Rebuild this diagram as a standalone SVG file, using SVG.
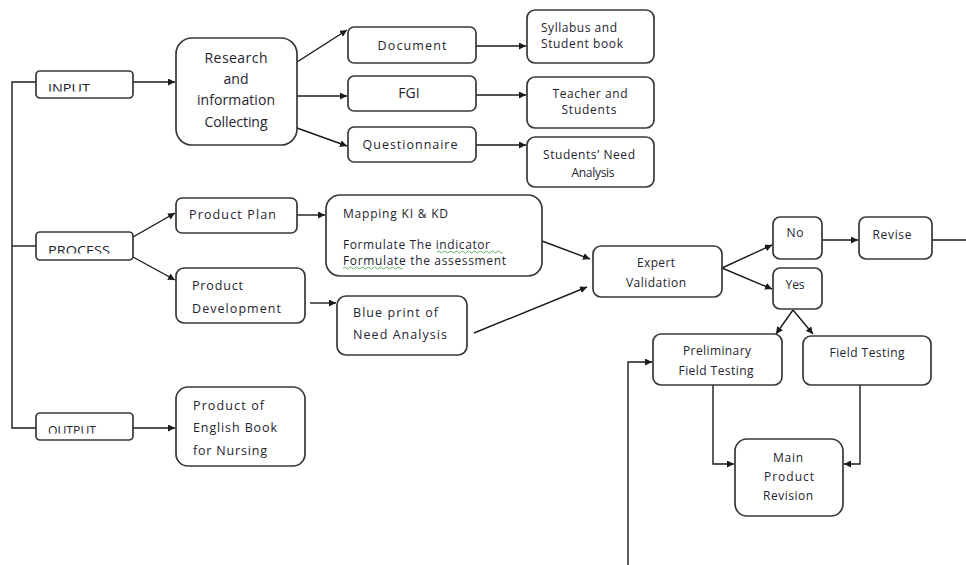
<svg xmlns="http://www.w3.org/2000/svg" width="966" height="565" viewBox="0 0 966 565">
<style>
.b{fill:#fff;stroke:#383838;stroke-width:1.7}
.c{fill:none;stroke:#1a1a1a;stroke-width:1.4}
text{font-family:"Open Sans","Liberation Sans",sans-serif;font-size:12.5px;fill:#1e2430}
.m{text-anchor:middle}
.L{font-size:14px}
.s{font-size:12px}
.t{font-size:13px}
.sp{fill:none;stroke:#3a9a3a;stroke-width:0.8}
</style>
<defs>
<marker id="a" viewBox="0 0 10 10" refX="10" refY="5" markerWidth="7" markerHeight="7" orient="auto" markerUnits="userSpaceOnUse">
<path d="M0,0 L10,5 L0,10 z" fill="#1a1a1a"/>
</marker>
<clipPath id="k1"><rect x="30" y="70" width="110" height="21.5"/></clipPath>
<clipPath id="k2"><rect x="30" y="230" width="110" height="23.5"/></clipPath>
<clipPath id="k3"><rect x="30" y="410" width="110" height="23.5"/></clipPath>
</defs>
<g id="connectors">
<path class="c" d="M36,82 H12 V428 H36"/>
<path class="c" d="M12,246 H36"/>
<path class="c" d="M133,82 H175" marker-end="url(#a)"/>
<path class="c" d="M297,62 L347,30" marker-end="url(#a)"/>
<path class="c" d="M297,96 H347" marker-end="url(#a)"/>
<path class="c" d="M297,128 L347,146" marker-end="url(#a)"/>
<path class="c" d="M476,46 H526" marker-end="url(#a)"/>
<path class="c" d="M476,95 H526" marker-end="url(#a)"/>
<path class="c" d="M476,145 H526" marker-end="url(#a)"/>
<path class="c" d="M133,237 L175,213" marker-end="url(#a)"/>
<path class="c" d="M133,257 L175,280" marker-end="url(#a)"/>
<path class="c" d="M133,428 H175" marker-end="url(#a)"/>
<path class="c" d="M297,215 H325" marker-end="url(#a)"/>
<path class="c" d="M310,303 H336" marker-end="url(#a)"/>
<path class="c" d="M542,241 L590,259" marker-end="url(#a)"/>
<path class="c" d="M474,333 L587,287" marker-end="url(#a)"/>
<path class="c" d="M722,268 L772,245" marker-end="url(#a)"/>
<path class="c" d="M722,268 L772,289" marker-end="url(#a)"/>
<path class="c" d="M822,240 H858" marker-end="url(#a)"/>
<path class="c" d="M932,240 H966"/>
<path class="c" d="M793,310 L776,334" marker-end="url(#a)"/>
<path class="c" d="M793,310 L813,334" marker-end="url(#a)"/>
<path class="c" d="M628,565 V362 H652" marker-end="url(#a)"/>
<path class="c" d="M713,385 V464 H734" marker-end="url(#a)"/>
<path class="c" d="M860,385 V464 H844" marker-end="url(#a)"/>
</g>
<g id="input">
<rect class="b" x="36" y="71" width="97" height="27" rx="4"/>
<text class="t" x="48" y="93" clip-path="url(#k1)" textLength="42" lengthAdjust="spacingAndGlyphs">INPUT</text>
</g>
<g id="process">
<rect class="b" x="36" y="232" width="97" height="28" rx="4"/>
<text class="t" x="48" y="255" clip-path="url(#k2)" textLength="62" lengthAdjust="spacingAndGlyphs">PROCESS</text>
</g>
<g id="output">
<rect class="b" x="36" y="413" width="97" height="27" rx="4"/>
<text class="t" x="48" y="435" clip-path="url(#k3)" textLength="48" lengthAdjust="spacingAndGlyphs">OUTPUT</text>
</g>
<g id="research">
<rect class="b" x="176" y="38" width="121" height="107" rx="16"/>
<text class="m L" x="236" y="63" textLength="63">Research</text>
<text class="m L" x="236" y="84" textLength="25">and</text>
<text class="m L" x="236" y="105" textLength="78">information</text>
<text class="m L" x="236" y="127" textLength="63">Collecting</text>
</g>
<g id="document">
<rect class="b" x="348" y="27" width="128" height="36" rx="6"/>
<text class="m" x="412" y="50" textLength="69">Document</text>
</g>
<g id="fgi">
<rect class="b" x="348" y="76" width="128" height="35" rx="6"/>
<text class="m" x="409" y="98" style="font-size:14px">FGI</text>
</g>
<g id="questionnaire">
<rect class="b" x="348" y="127" width="128" height="35" rx="6"/>
<text class="m" x="410" y="149" textLength="95">Questionnaire</text>
</g>
<g id="syllabus">
<rect class="b" x="527" y="10" width="127" height="53" rx="8"/>
<text class="s" x="541" y="32" textLength="76">Syllabus and</text>
<text class="s" x="541" y="48" textLength="82">Student book</text>
</g>
<g id="teacher">
<rect class="b" x="527" y="77" width="127" height="51" rx="8"/>
<text class="m s" x="590" y="98" textLength="75">Teacher  and</text>
<text class="m s" x="589" y="114" textLength="55">Students</text>
</g>
<g id="needs">
<rect class="b" x="527" y="137" width="127" height="50" rx="8"/>
<text class="m s" x="589" y="159" textLength="92">Students’ Need</text>
<text class="m s" x="593" y="177" textLength="43">Analysis</text>
</g>
<g id="plan">
<rect class="b" x="176" y="198" width="121" height="35" rx="6"/>
<text x="189" y="219" textLength="87">Product  Plan</text>
</g>
<g id="development">
<rect class="b" x="176" y="268" width="129" height="55" rx="8"/>
<text x="192" y="290" textLength="51">Product</text>
<text x="192" y="313" textLength="89">Development</text>
</g>
<g id="english">
<rect class="b" x="176" y="387" width="129" height="79" rx="12"/>
<text x="193" y="410" textLength="71">Product  of</text>
<text x="193" y="432" textLength="84">English Book</text>
<text x="193" y="455" textLength="74">for Nursing</text>
</g>
<g id="mapping">
<rect class="b" x="326" y="195" width="216" height="81" rx="14"/>
<text class="s" x="343" y="218" textLength="105">Mapping KI &amp; KD</text>
<text class="s" x="343" y="249" textLength="147">Formulate  The indicator</text>
<text class="s" x="343" y="265" textLength="163">Formulate  the assessment</text>
<path class="sp" d="M437,252 q1.5,-2 3,0 t3,0 t3,0 t3,0 t3,0 t3,0 t3,0 t3,0 t3,0 t3,0 t3,0 t3,0 t3,0 t3,0 t3,0 t3,0 t3,0 t3,0 t3,0 t3,0 t3,0 t3,0"/>
<path class="sp" d="M343,268 q1.5,-2 3,0 t3,0 t3,0 t3,0 t3,0 t3,0 t3,0 t3,0 t3,0 t3,0 t3,0 t3,0 t3,0 t3,0 t3,0 t3,0 t3,0 t3,0 t3,0 t3,0"/>
</g>
<g id="blueprint">
<rect class="b" x="337" y="296" width="130" height="59" rx="9"/>
<text x="353" y="317" textLength="85">Blue print  of</text>
<text x="353" y="339" textLength="94">Need Analysis</text>
</g>
<g id="expert">
<rect class="b" x="593" y="246" width="129" height="51" rx="8"/>
<text class="m s" x="656" y="267" textLength="38">Expert</text>
<text class="m s" x="656" y="287" textLength="60">Validation</text>
</g>
<g id="no">
<rect class="b" x="773" y="217" width="49" height="42" rx="7"/>
<text class="m s" x="795" y="237" textLength="17">No</text>
</g>
<g id="revise">
<rect class="b" x="859" y="217" width="73" height="42" rx="7"/>
<text class="m s" x="892" y="239" textLength="39">Revise</text>
</g>
<g id="yes">
<rect class="b" x="773" y="268" width="49" height="41" rx="7"/>
<text class="m s" x="795" y="289" textLength="19">Yes</text>
</g>
<g id="preliminary">
<rect class="b" x="653" y="334" width="129" height="51" rx="8"/>
<text class="m s" x="717" y="355" textLength="68">Preliminary</text>
<text class="m s" x="716" y="375" textLength="75">Field Testing</text>
</g>
<g id="fieldtesting">
<rect class="b" x="803" y="336" width="128" height="49" rx="8"/>
<text class="m s" x="867" y="357" textLength="75">Field Testing</text>
</g>
<g id="mainrevision">
<rect class="b" x="735" y="439" width="108" height="77" rx="12"/>
<text class="m s" x="788" y="462" textLength="30">Main</text>
<text class="m s" x="789" y="481" textLength="50">Product</text>
<text class="m s" x="788" y="500" textLength="50">Revision</text>
</g>
</svg>
